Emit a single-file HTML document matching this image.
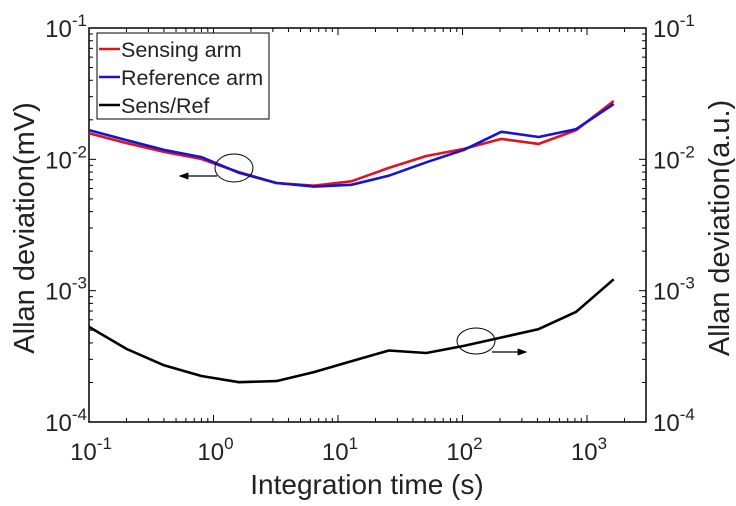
<!DOCTYPE html>
<html><head><meta charset="utf-8"><style>
html,body{margin:0;padding:0;background:#fff;}
svg{display:block;font-family:"Liberation Sans",Arial,sans-serif;}
</style></head><body>
<svg id="chart" width="736" height="506" viewBox="0 0 736 506">
<g id="grid"></g>
<g id="series"></g>
<g id="ann"></g>
</svg>
<script>
const tau=[0.1,0.2,0.4,0.8,1.6,3.2,6.4,12.8,25.6,51.2,102.4,204.8,409.6,819.2,1638.4];
const sensing=[0.0158,0.0133,0.0114,0.01005,0.0080,0.0066,0.0063,0.0068,0.0086,0.0106,0.0120,0.0143,0.0131,0.0167,0.0278];
const reference=[0.0167,0.0140,0.0118,0.0104,0.0079,0.0066,0.0062,0.0064,0.0075,0.0095,0.0118,0.0162,0.0148,0.0170,0.0264];
const ratio=[0.00053,0.00036,0.00027,0.000224,0.000201,0.000205,0.00024,0.00029,0.00035,0.000335,0.00038,0.00044,0.00051,0.00069,0.00122];
const xTickExps=[-1,0,1,2,3];
const yTickExps=[-4,-3,-2,-1];

const L=89,R=646,T=28,B=422;
const xDec=124.5, yDec=(B-T)/3;
const X=v=>L+(Math.log10(v)+1)*xDec;
const Y=v=>T+(-1-Math.log10(v))*yDec;
const NS="http://www.w3.org/2000/svg";
const svg=document.getElementById('chart');
function mk(tag,attrs,parent){const e=document.createElementNS(NS,tag);for(const k in attrs)e.setAttribute(k,attrs[k]);(parent||svg).appendChild(e);return e;}
const g=document.getElementById('grid');

const frame=mk('rect',{x:L,y:T,width:R-L,height:B-T,fill:'none',stroke:'#000','stroke-width':1.5},g);



for(let e=-1;e<=3;e++){for(let m=1;m<10;m++){const v=m*Math.pow(10,e);const x=X(v);if(x>R)continue;const len=m===1?7:4;
mk('line',{x1:x,y1:B,x2:x,y2:B-len,stroke:'#000','stroke-width':1},g);
mk('line',{x1:x,y1:T,x2:x,y2:T+len,stroke:'#000','stroke-width':1},g);}}
xTickExps.forEach(e=>{const x=X(Math.pow(10,e));
const t=mk('text',{x:x+2,y:460,'font-size':24,'text-anchor':'middle',fill:'#222'},g);


t.innerHTML='10<tspan dy="-11" font-size="17">'+e+'</tspan>';});

for(let e=-4;e<=-2;e++){for(let m=1;m<10;m++){const v=m*Math.pow(10,e);const y=Y(v);const len=m===1?7:4;
mk('line',{x1:L,y1:y,x2:L+len,y2:y,stroke:'#000','stroke-width':1},g);
mk('line',{x1:R,y1:y,x2:R-len,y2:y,stroke:'#000','stroke-width':1},g);}}
yTickExps.forEach(e=>{const y=Y(Math.pow(10,e));
const t=mk('text',{x:87,y:y+9,'font-size':24,'text-anchor':'end',fill:'#222'},g);


t.innerHTML='10<tspan dy="-11" font-size="17">'+e+'</tspan>';
const t2=mk('text',{x:653,y:y+9,'font-size':24,'text-anchor':'start',fill:'#222'},g);


t2.innerHTML='10<tspan dy="-11" font-size="17">'+e+'</tspan>';});

const xt=mk('text',{x:367,y:494,'font-size':28,'text-anchor':'middle',fill:'#222'},g);xt.textContent='Integration time (s)';


const yl=mk('text',{x:0,y:0,'font-size':29,'text-anchor':'middle',fill:'#222',transform:'translate(34,228) rotate(-90)'},g);yl.textContent='Allan deviation(mV)';


const yr=mk('text',{x:0,y:0,'font-size':29,'text-anchor':'middle',fill:'#222',transform:'translate(729,228) rotate(-90)'},g);yr.textContent='Allan deviation(a.u.)';



const sg=document.getElementById('series');
function line(vals,color,name){const p=mk('polyline',{points:tau.map((t,i)=>X(t).toFixed(1)+','+Y(vals[i]).toFixed(1)).join(' '),fill:'none',stroke:color,'stroke-width':2.6,'stroke-linejoin':'round'},sg);

}
line(sensing,'#e0141e','sensing-arm-line');
line(reference,'#1414d2','reference-arm-line');
line(ratio,'#000','sens-ref-line');

const a=document.getElementById('ann');
const defs=mk('defs',{},a);
const mkr=mk('marker',{id:'ah',markerWidth:8,markerHeight:6,refX:7,refY:3,orient:'auto'},defs);
mk('path',{d:'M0,0 L8,3 L0,6 Z',fill:'#000'},mkr);
const e1=mk('ellipse',{cx:234,cy:168,rx:19,ry:14,fill:'none',stroke:'#000','stroke-width':1},a);


mk('line',{x1:217,y1:176,x2:180,y2:176,stroke:'#000','stroke-width':1.2,'marker-end':'url(#ah)'},a);
const e2=mk('ellipse',{cx:476,cy:341,rx:19,ry:13,fill:'none',stroke:'#000','stroke-width':1},a);


mk('line',{x1:492,y1:352,x2:526,y2:352,stroke:'#000','stroke-width':1.2,'marker-end':'url(#ah)'},a);

const lg=mk('g',{},a);


mk('rect',{x:97,y:33,width:172,height:86,fill:'#fff',stroke:'#000','stroke-width':1},lg);
[['Sensing arm','#e0141e'],['Reference arm','#1414d2'],['Sens/Ref','#000']].forEach((d,i)=>{const y=49+i*28;
mk('line',{x1:99,y1:y,x2:120,y2:y,stroke:d[1],'stroke-width':2.6},lg);
const t=mk('text',{x:121,y:y+8,'font-size':21.5,fill:'#222'},lg);t.textContent=d[0];

});
</script>
</body></html>
